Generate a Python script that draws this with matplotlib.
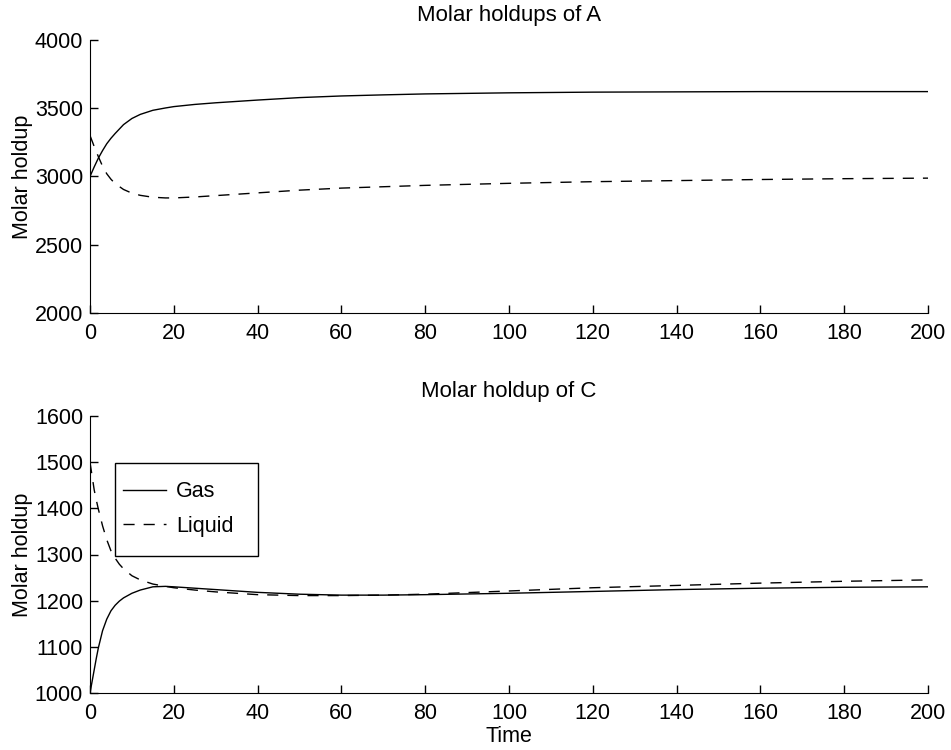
import matplotlib
matplotlib.use("Agg")
import matplotlib.pyplot as plt
from matplotlib.patches import Rectangle
import numpy as np

plt.rcParams['font.family'] = ['Liberation Sans', 'DejaVu Sans']

# Time grid
t = [0, 1, 2, 3, 4, 5, 6, 8, 10, 12, 15, 18, 20, 25, 30, 40, 50, 60, 70, 80, 100, 120, 140, 160, 180, 200]

# Molar holdups of A
gas_A = [3000, 3070, 3135, 3190, 3240, 3280, 3315, 3380, 3425, 3455, 3485, 3502, 3512, 3528, 3540, 3560, 3578, 3590, 3598, 3605, 3613, 3618, 3620, 3622, 3622, 3622]
liq_A = [3300, 3220, 3145, 3075, 3020, 2980, 2948, 2905, 2878, 2862, 2848, 2843, 2843, 2850, 2860, 2880, 2900, 2915, 2925, 2935, 2950, 2962, 2970, 2978, 2984, 2988]

# Molar holdup of C
t_C = [0, 0.5, 1, 1.5, 2, 3, 4, 5, 6, 7, 8, 10, 12, 15, 18, 20, 25, 30, 40, 50, 60, 70, 80, 100, 120, 140, 160, 180, 200]
gas_C = [1000, 1025, 1050, 1075, 1098, 1135, 1160, 1178, 1190, 1199, 1206, 1216, 1223, 1230, 1231, 1230, 1227, 1224, 1218, 1214, 1212, 1212, 1213, 1216, 1220, 1224, 1227, 1229, 1230]
liq_C = [1500, 1470, 1440, 1418, 1398, 1362, 1332, 1308, 1292, 1279, 1269, 1254, 1245, 1236, 1231, 1228, 1223, 1219, 1213, 1211, 1211, 1212, 1214, 1221, 1228, 1233, 1238, 1242, 1245]

fig = plt.figure(figsize=(9.51, 7.5), dpi=100)
W, H = 951, 750
ax1 = fig.add_axes([90 / W, 1 - 313 / H, (928 - 90) / W, (313 - 40) / H])
ax2 = fig.add_axes([90 / W, 1 - 693 / H, (928 - 90) / W, (693 - 416) / H])

dash = (0, (8, 6.5))
ax1.plot(t, gas_A, color='black', lw=1.0, label='Gas')
ax1.plot(t, liq_A, color='black', lw=1.0, linestyle=dash, label='Liquid')
ax2.plot(t_C, gas_C, color='black', lw=1.0, label='Gas')
ax2.plot(t_C, liq_C, color='black', lw=1.0, linestyle=dash, label='Liquid')

fs = 15.5
for ax in (ax1, ax2):
    ax.set_xlim(0, 200)
    ax.set_xticks(np.arange(0, 201, 20))
    ax.spines['top'].set_visible(False)
    ax.spines['right'].set_visible(False)
    ax.tick_params(direction='in', length=6, width=1, labelsize=fs)
    ax.tick_params(axis='x', pad=7)
    ax.tick_params(axis='y', pad=5)
    ax.set_ylabel('Molar holdup', fontsize=fs, labelpad=1.5)

ax1.set_ylim(2000, 4000)
ax1.set_yticks(np.arange(2000, 4001, 500))
ax2.set_ylim(1000, 1600)
ax2.set_yticks(np.arange(1000, 1601, 100))

ax1.set_title('Molar holdups of A', fontsize=16, pad=14)
ax2.set_title('Molar holdup of C', fontsize=16, pad=14)
ax2.set_xlabel('Time', fontsize=fs, labelpad=1.5)

# legend box drawn as a frame rectangle
ax2.add_patch(Rectangle((0.0298, 0.4946), 0.2005 - 0.0298, 0.830 - 0.4946,
                        transform=ax2.transAxes, facecolor='white',
                        edgecolor='black', lw=1.0, zorder=4))
leg = ax2.legend(loc='center left', bbox_to_anchor=(0.0394, 0.664), fontsize=fs,
                 frameon=False, handlelength=2.0, borderpad=0, labelspacing=0.62,
                 handletextpad=0.45, borderaxespad=0)
leg.set_zorder(5)

fig.savefig('out.png', dpi=100)
